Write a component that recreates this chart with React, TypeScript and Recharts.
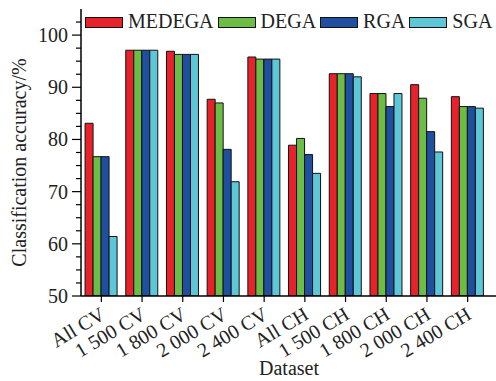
import React from 'react';
import { BarChart, Bar, XAxis, YAxis } from 'recharts';

const categories = ['All CV', '1 500 CV', '1 800 CV', '2 000 CV', '2 400 CV', 'All CH', '1 500 CH', '1 800 CH', '2 000 CH', '2 400 CH'];
const medega = [83.1, 97.1, 96.9, 87.7, 95.8, 78.9, 92.6, 88.8, 90.5, 88.2];
const dega = [76.7, 97.1, 96.3, 87.0, 95.4, 80.2, 92.6, 88.8, 87.9, 86.3];
const rga = [76.7, 97.1, 96.3, 78.1, 95.4, 77.1, 92.6, 86.3, 81.5, 86.3];
const sga = [61.4, 97.1, 96.3, 71.9, 95.4, 73.5, 92.0, 88.8, 77.6, 86.0];
const yTicks = [50, 52.5, 55, 57.5, 60, 62.5, 65, 67.5, 70, 72.5, 75, 77.5, 80, 82.5, 85, 87.5, 90, 92.5, 95, 97.5, 100, 102.5];

const series = [
  { key: 'MEDEGA', color: '#e8222a' },
  { key: 'DEGA', color: '#6bbd45' },
  { key: 'RGA', color: '#1f4f9f' },
  { key: 'SGA', color: '#5ec7d7' },
];

const FONT = '"Liberation Serif", "Times New Roman", serif';

const data = categories.map((name, i) => ({
  name,
  MEDEGA: medega[i],
  DEGA: dega[i],
  RGA: rga[i],
  SGA: sga[i],
}));

const LeftTick = (props: any) => {
  const { x, y, payload } = props;
  const major = payload.value % 10 === 0;
  return (
    <g>
      <line x1={x - (major ? 9 : 5)} x2={x} y1={y} y2={y} stroke="#000" strokeWidth={1.2} />
      {major && (
        <text x={x - 13} y={y} dy="0.35em" textAnchor="end" fontSize={20} fontFamily={FONT} fill="#222">
          {payload.value}
        </text>
      )}
    </g>
  );
};

const RightTick = (props: any) => {
  const { x, y, payload } = props;
  const major = payload.value % 10 === 0;
  return <line x1={x - (major ? 9 : 5)} x2={x} y1={y} y2={y} stroke="#000" strokeWidth={1.2} />;
};

const BottomTick = (props: any) => {
  const { x, y, payload } = props;
  return (
    <g>
      <line x1={x} x2={x} y1={y} y2={y + 6} stroke="#000" strokeWidth={1.2} />
      <text
        transform={`translate(${x + 5},${y + 22}) rotate(-31)`}
        textAnchor="end"
        fontSize={20}
        fontFamily={FONT}
        fill="#222"
      >
        {payload.value}
      </text>
    </g>
  );
};

const TopTick = (props: any) => {
  const { x, y } = props;
  return (
    <g>
      {[-13.6, 0, 13.6].map(d => (
        <line key={d} x1={x + d} x2={x + d} y1={y} y2={y + 5} stroke="#000" strokeWidth={1.2} />
      ))}
    </g>
  );
};

export default function App() {
  return (
    <div style={{ position: 'absolute', left: 0, top: 0, width: 496, height: 381, overflow: 'hidden', background: '#fff' }}>
      <BarChart
        width={500}
        height={381}
        data={data}
        margin={{ top: 9, right: 3, left: 0, bottom: 0 }}
        barCategoryGap="10%"
        barGap={0}
      >
        <XAxis
          dataKey="name"
          interval={0}
          height={85}
          padding={{ left: 0, right: 9 }}
          axisLine={{ stroke: '#000', strokeWidth: 1.5 }}
          tickLine={false}
          tickSize={0}
          tickMargin={0}
          tick={<BottomTick />}
          label={{ value: 'Dataset', position: 'insideBottom', offset: 6, fontSize: 20, fontFamily: FONT, fill: '#222' }}
        />
        <XAxis
          xAxisId="top"
          dataKey="name"
          orientation="top"
          interval={0}
          height={0}
          padding={{ left: 0, right: 9 }}
          axisLine={{ stroke: '#000', strokeWidth: 1.5 }}
          tickLine={false}
          tickSize={0}
          tickMargin={0}
          tick={<TopTick />}
        />
        <YAxis
          width={81}
          domain={[50, 105]}
          ticks={yTicks}
          interval={0}
          allowDataOverflow
          axisLine={{ stroke: '#000', strokeWidth: 1.5 }}
          tickLine={false}
          tickSize={0}
          tickMargin={0}
          tick={<LeftTick />}
          label={{
            value: 'Classification accuracy/%',
            angle: -90,
            position: 'insideLeft',
            dx: 14,
            dy: 10,
            style: { textAnchor: 'middle' },
            fontSize: 20,
            fontFamily: FONT,
            fill: '#222',
          }}
        />
        <YAxis
          yAxisId="right"
          orientation="right"
          width={0}
          domain={[50, 105]}
          ticks={yTicks}
          interval={0}
          allowDataOverflow
          axisLine={{ stroke: '#000', strokeWidth: 1.5 }}
          tickLine={false}
          tickSize={0}
          tickMargin={0}
          tick={<RightTick />}
        />
        {series.map(s => (
          <Bar key={s.key} dataKey={s.key} fill={s.color} stroke="#111" strokeWidth={1} isAnimationActive={false} />
        ))}
      </BarChart>
      <div
        style={{
          position: 'absolute',
          left: 85,
          top: 11,
          display: 'flex',
          alignItems: 'center',
          fontFamily: FONT,
          fontSize: 20,
          color: '#222',
          lineHeight: '20px',
          whiteSpace: 'nowrap',
        }}
      >
        {series.map(s => (
          <div key={s.key} style={{ display: 'flex', alignItems: 'center', marginRight: 4 }}>
            <span
              style={{
                display: 'inline-block',
                width: 36,
                height: 9,
                background: s.color,
                border: '1.5px solid #111',
                marginRight: 5,
                marginTop: 3,
              }}
            />
            <span>{s.key}</span>
          </div>
        ))}
      </div>
    </div>
  );
}
